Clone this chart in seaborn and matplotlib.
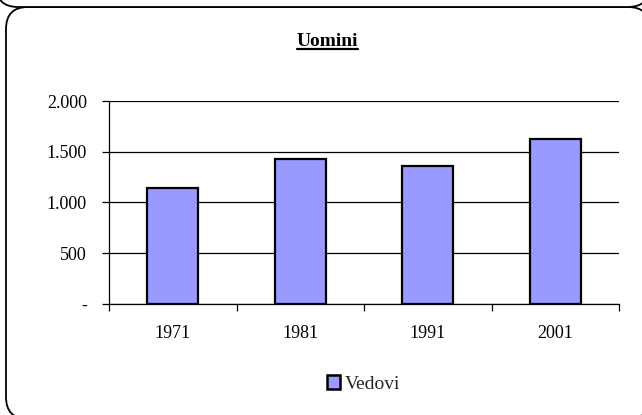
import pandas as pd
import seaborn as sns
import matplotlib.pyplot as plt
from matplotlib.patches import FancyBboxPatch, Patch
from matplotlib.transforms import IdentityTransform
from matplotlib.ticker import FixedLocator, FuncFormatter

# Data
anni = ["1971", "1981", "1991", "2001"]
vedovi = [1145, 1425, 1355, 1625]
serie = "Vedovi"
titolo = "Uomini"

df = pd.DataFrame({"anno": anni, "valore": vedovi})

sns.set_theme(style="white")
plt.rcParams["font.family"] = ["Liberation Serif", "DejaVu Serif"]

W, H = 642, 415
fig = plt.figure(figsize=(W / 100, H / 100), dpi=100)

# rounded chart-area frames in pixel coords (current chart + bottom of the previous one)
fig.patches.append(FancyBboxPatch((6, -4), 644, H - 7 + 4,
                                  boxstyle="round,pad=0,rounding_size=22",
                                  transform=IdentityTransform(), fc="white",
                                  ec="black", lw=1.3, zorder=0))
fig.patches.append(FancyBboxPatch((-4, H - 7), 654, 100,
                                  boxstyle="round,pad=0,rounding_size=22",
                                  transform=IdentityTransform(), fc="white",
                                  ec="black", lw=1.3, zorder=0))

ax = fig.add_axes([109 / W, 111 / H, 510 / W, 203 / H])
ax.set_facecolor("none")
ax.set_zorder(3)

sns.barplot(data=df, x="anno", y="valore", ax=ax, color="#9999FF", width=0.4,
            edgecolor="black", linewidth=1.6, saturation=1, zorder=3)

ax.set_ylim(0, 2000)
ax.set_xlim(-0.5, len(anni) - 0.5)
ax.set_xlabel("")
ax.set_ylabel("")

ax.yaxis.set_major_locator(FixedLocator([0, 500, 1000, 1500, 2000]))
ax.yaxis.set_major_formatter(FuncFormatter(
    lambda v, p: "-" if v == 0 else f"{int(v):,}".replace(",", ".")))
ax.grid(axis="y", color="black", lw=0.9, zorder=1)
ax.grid(axis="x", visible=False)

# x ticks on category boundaries, labels centered
ax.set_xticks([i - 0.5 for i in range(len(anni) + 1)])
ax.set_xticklabels([])
ax.set_xticks(range(len(anni)), minor=True)
ax.set_xticklabels(anni, minor=True)
ax.tick_params(axis="x", which="major", direction="out", length=5, width=0.9,
               color="black", bottom=True)
ax.tick_params(axis="x", which="minor", length=0, pad=15, labelsize=13,
               labelcolor="black")
ax.tick_params(axis="y", direction="out", length=5, width=0.9, color="black",
               left=True, pad=11, labelsize=13, labelcolor="black")

for s in ["top", "right"]:
    ax.spines[s].set_visible(False)
for s in ["left", "bottom"]:
    ax.spines[s].set_color("black")
    ax.spines[s].set_linewidth(0.9)
    ax.spines[s].set_zorder(4)

# underlined bold title
t = fig.text(327.5 / W, 1 - 42 / H, titolo, ha="center", va="center",
             fontsize=14, fontweight="bold", color="black")
fig.canvas.draw()
bb = t.get_window_extent().transformed(fig.transFigure.inverted())
fig.add_artist(plt.Line2D([bb.x0, bb.x1], [bb.y0 + 1 / H, bb.y0 + 1 / H],
                          transform=fig.transFigure, color="black", lw=1.6))

# legend
h = Patch(facecolor="#9999FF", edgecolor="black", linewidth=1.8, label=serie)
fig.legend(handles=[h], loc="center", bbox_to_anchor=(363.5 / W, 1 - 384 / H),
           frameon=False, fontsize=14, handlelength=0.7, handleheight=0.7,
           handletextpad=0.25, borderpad=0)

fig.savefig("out.png", dpi=100)
